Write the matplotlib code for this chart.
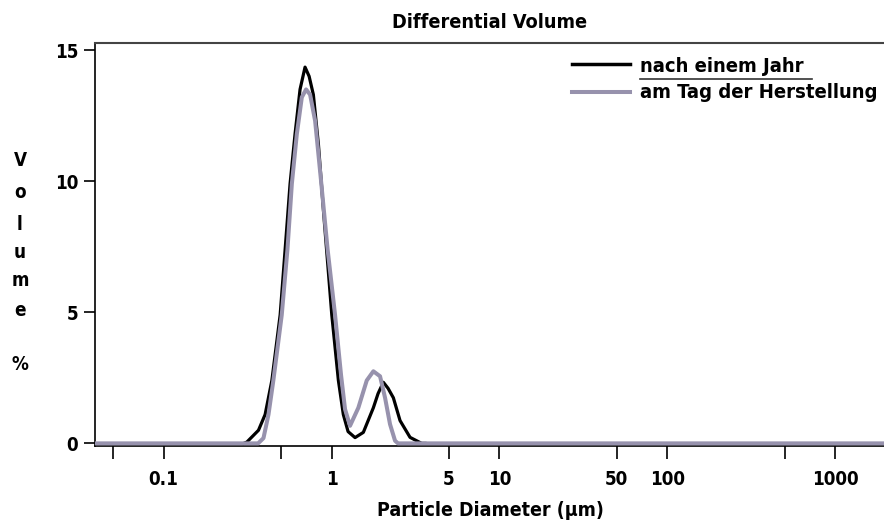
import matplotlib.pyplot as plt
from matplotlib import font_manager
from matplotlib.lines import Line2D
from matplotlib.ticker import FixedLocator, NullFormatter

# Particle size distribution
# "nach einem Jahr" (black)
d_jahr = [0.30, 0.313, 0.367, 0.402, 0.441, 0.494, 0.529, 0.566, 0.606, 0.649,
          0.695, 0.735, 0.779, 0.835, 0.894, 0.947, 1.003, 1.098, 1.175, 1.254,
          1.380, 1.546, 1.774, 1.892, 2.034, 2.17, 2.333, 2.557, 2.933, 3.44, 3.6]
v_jahr = [0.0, 0.05, 0.5, 1.1, 2.4, 4.9, 7.4, 9.9, 11.8, 13.5,
          14.35, 14.0, 13.3, 11.4, 8.9, 6.9, 4.9, 2.4, 1.1, 0.45,
          0.22, 0.42, 1.36, 1.9, 2.33, 2.1, 1.74, 0.87, 0.23, 0.0, 0.0]

# "am Tag der Herstellung" (grey)
d_tag = [0.039, 0.365, 0.393, 0.421, 0.450, 0.505, 0.546, 0.580, 0.621, 0.665,
         0.705, 0.745, 0.798, 0.866, 0.947, 1.049, 1.139, 1.203, 1.288, 1.444,
         1.620, 1.774, 1.944, 2.082, 2.229, 2.388, 2.488, 1950]
v_tag = [0.0, 0.0, 0.2, 1.1, 2.4, 4.9, 7.4, 9.9, 11.8, 13.2,
         13.5, 13.3, 12.3, 10.0, 7.4, 4.9, 2.6, 1.3, 0.67, 1.36,
         2.4, 2.75, 2.56, 1.74, 0.73, 0.1, 0.0, 0.0]

x_major = [0.1, 1, 5, 10, 50, 100, 1000]
x_major_labels = ["0.1", "1", "5", "10", "50", "100", "1000"]
x_minor = [0.05, 0.5, 500]
y_ticks = [0, 5, 10, 15]

# narrow bold font if the system has one
names = {f.name for f in font_manager.fontManager.ttflist}
if 'Liberation Sans Narrow' in names:
    plt.rcParams['font.family'] = ['Liberation Sans Narrow', 'DejaVu Sans']
    fs = 16.5
else:
    plt.rcParams['font.family'] = ['DejaVu Sans']
    plt.rcParams['font.stretch'] = 'condensed'
    fs = 14
plt.rcParams['font.weight'] = 'bold'

grey = '#9792ad'

fig = plt.figure(figsize=(8.84, 5.28), dpi=100)
ax = fig.add_axes([95 / 884, 1 - 446 / 528, 1 - 95 / 884, (446 - 43) / 528])

ax.plot(d_jahr, v_jahr, color='black', lw=2.3, zorder=3,
        solid_joinstyle='round')
ax.plot(d_tag, v_tag, color=grey, lw=2.9, zorder=4,
        solid_joinstyle='round')

ax.set_xscale('log')
ax.set_xlim(0.039, 1950)
ax.set_ylim(-0.1, 15.27)

ax.xaxis.set_major_locator(FixedLocator(x_major))
ax.set_xticklabels(x_major_labels)
ax.xaxis.set_minor_locator(FixedLocator(x_minor))
ax.xaxis.set_minor_formatter(NullFormatter())
ax.set_yticks(y_ticks)

ax.tick_params(axis='x', which='major', length=9, width=1.2, pad=8,
               labelsize=fs - 0.5, direction='out')
ax.tick_params(axis='x', which='minor', length=9, width=1.2, direction='out')
ax.tick_params(axis='y', length=8, width=1.2, pad=4, labelsize=fs - 0.5,
               direction='out')

ax.spines['right'].set_visible(False)
ax.spines['top'].set_color('#444444')
ax.spines['top'].set_linewidth(1.5)
ax.spines['left'].set_linewidth(1.2)
ax.spines['bottom'].set_linewidth(1.2)

# title and axis labels
fig.text(490 / 884, 1 - 22 / 528, "Differential Volume", ha='center',
         va='center', fontsize=fs + 0.2, fontweight='bold')
fig.text(490 / 884, 1 - 511 / 528, "Particle Diameter (\u00b5m)", ha='center',
         va='center', fontsize=fs, fontweight='bold')

# vertical stacked y label
for ch, ypx in zip("Volume%", [160, 192, 225, 252, 281, 310, 365]):
    fig.text(20 / 884, 1 - ypx / 528, ch, ha='center', va='center',
             fontsize=fs - 0.5, fontweight='bold')

# legend drawn by hand to get the underlined look
fig.lines.append(Line2D([572 / 884, 630 / 884], [1 - 64 / 528, 1 - 64 / 528],
                        color='black', lw=2.5, transform=fig.transFigure))
fig.lines.append(Line2D([572 / 884, 630 / 884], [1 - 92 / 528, 1 - 92 / 528],
                        color=grey, lw=2.9, transform=fig.transFigure))
fig.lines.append(Line2D([640 / 884, 812 / 884], [1 - 79 / 528, 1 - 79 / 528],
                        color='#333333', lw=1.2, transform=fig.transFigure))
fig.text(640 / 884, 1 - 66 / 528, "nach einem Jahr", ha='left', va='center',
         fontsize=fs + 0.5, fontweight='bold')
fig.text(640 / 884, 1 - 92 / 528, "am Tag der Herstellung", ha='left',
         va='center', fontsize=fs + 0.5, fontweight='bold')

fig.savefig("out.png", dpi=100)
